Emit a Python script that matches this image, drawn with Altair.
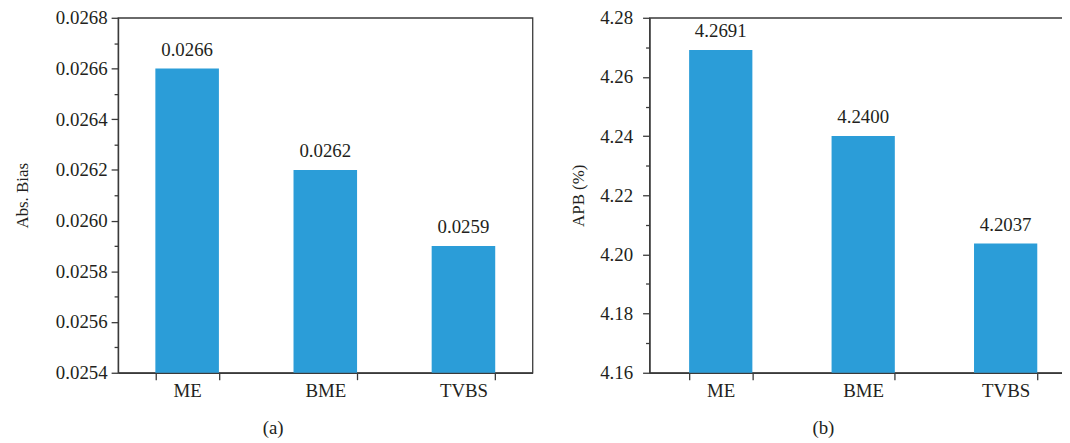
import altair as alt
import pandas as pd

methods = ["ME", "BME", "TVBS"]
abs_bias = [0.0266, 0.0262, 0.0259]
apb = [4.2691, 4.2400, 4.2037]

left_major = [0.0254, 0.0256, 0.0258, 0.0260, 0.0262, 0.0264, 0.0266, 0.0268]
left_minor = [0.0255, 0.0257, 0.0259, 0.0261, 0.0263, 0.0265, 0.0267]
right_major = [4.16, 4.18, 4.20, 4.22, 4.24, 4.26, 4.28]
right_minor = [4.17, 4.19, 4.21, 4.23, 4.25, 4.27]

FONT = "Liberation Serif"
FS = 19
BAR = "#2b9dd8"
AX = "#3a3a3a"
TXT = "#231f20"


def panel(values, ytitle, domain, major, minor, fmt_axis, width, caption, pad_inner,
          label_pad, title_pad):
    df = pd.DataFrame({"method": methods, "value": values})
    step = width / 3.0
    half_gap = pad_inner / 2 * step
    xscale = alt.Scale(domain=methods, paddingInner=pad_inner, paddingOuter=pad_inner / 2)
    yscale = alt.Scale(domain=domain, zero=False, nice=False)
    base = alt.Chart(df).encode(
        x=alt.X("method:N", scale=xscale, sort=methods, title=None,
                axis=alt.Axis(labelAngle=0, tickBand="extent", tickSize=7, labelPadding=2,
                              tickOffset=-half_gap,
                              labelFont=FONT, labelFontSize=FS, labelColor=TXT,
                              domain=True, ticks=True,
                              domainColor=AX, tickColor=AX, domainWidth=1.3, tickWidth=1.3)),
    )
    bars = base.mark_bar(color=BAR).encode(
        y=alt.Y("value:Q", scale=yscale, title=ytitle,
                axis=alt.Axis(values=major, format=fmt_axis, tickSize=7, labelPadding=label_pad,
                              labelFont=FONT, labelFontSize=FS, labelColor=TXT,
                              titleFont=FONT, titleFontSize=17, titleFontWeight="normal",
                              titleColor=TXT, titlePadding=title_pad,
                              domainColor=AX, tickColor=AX, domainWidth=1.3, tickWidth=1.3,
                              grid=False)),
        y2=alt.datum(domain[0]),
    )
    texts = base.mark_text(font=FONT, fontSize=FS, color=TXT, baseline="bottom", dy=-9).encode(
        y=alt.Y("value:Q", scale=yscale, axis=None),
        text=alt.Text("value:Q", format=".4f"),
    )
    minor_layer = alt.Chart(pd.DataFrame({"v": [domain[0]]})).mark_point(opacity=0).encode(
        y=alt.Y("v:Q", scale=yscale,
                axis=alt.Axis(orient="left", values=minor, labels=False, title=None, domain=False,
                              tickSize=4, tickColor=AX, tickWidth=1.3, grid=False)),
    )
    return alt.layer(bars, texts, minor_layer).resolve_axis(y="independent").properties(
        width=width, height=358,
        title=alt.TitleParams(caption, orient="bottom", anchor="middle", frame="bounds",
                              font=FONT, fontSize=FS, fontWeight="normal", color=TXT, offset=19),
    )


left = panel(abs_bias, "Abs. Bias", [0.0254, 0.0268], left_major, left_minor, ".4f", 418, "(a)",
             0.54, 4, 24)
right = panel(apb, "APB (%)", [4.16, 4.28], right_major, right_minor, ".2f", 431, "(b)",
              0.556, 10, 12)

chart = alt.hconcat(left, right, spacing=36).properties(
    padding={"left": 5, "top": -2, "right": -16, "bottom": 5},
    background="white",
).configure_view(stroke="#3a3a3a", strokeWidth=1.3)

chart.save("out.html", embed_options={"renderer": "svg", "actions": False})
